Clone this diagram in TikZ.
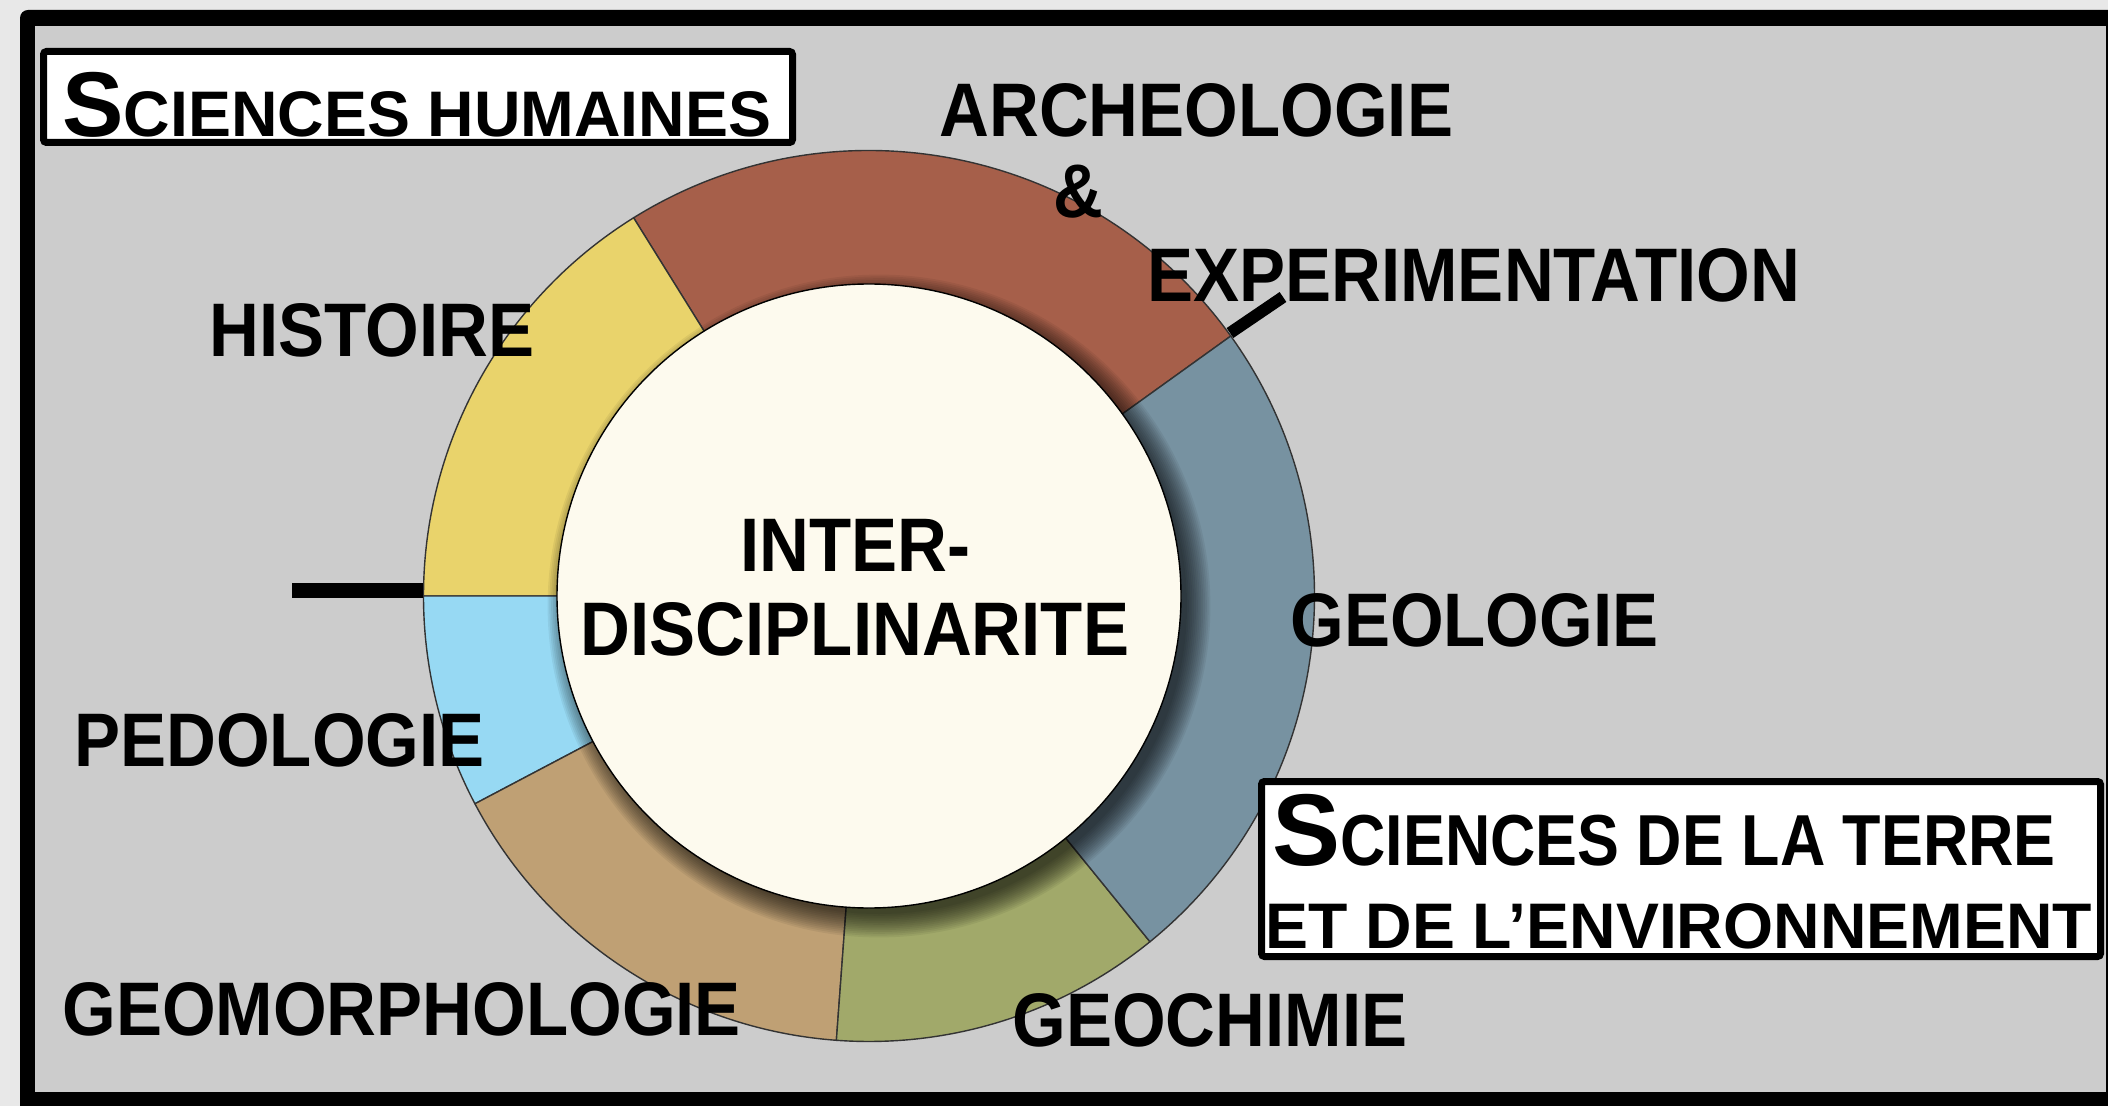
\documentclass[tikz,border=0pt]{standalone}
\usepackage{fontspec}
\setmainfont{Liberation Sans}
\usepackage{graphicx}
\usetikzlibrary{calc}
\definecolor{outerbg}{HTML}{E8E8E8}
\definecolor{panel}{HTML}{CCCCCC}
\definecolor{segred}{HTML}{A65F4A}
\definecolor{segyellow}{HTML}{E9D36B}
\definecolor{segblue}{HTML}{97D9F3}
\definecolor{segtan}{HTML}{BFA074}
\definecolor{segolive}{HTML}{A1A96A}
\definecolor{segsteel}{HTML}{7792A1}
\definecolor{cream}{HTML}{FDFAEE}
\definecolor{segline}{HTML}{333333}
\newcommand\Ro{222.75pt}
\newcommand\Ri{156pt}
\newcommand\lblfont{\fontsize{34.5pt}{36pt}\selectfont\bfseries}
\newcommand\lbltext[1]{\scalebox{1}[1.1]{#1}}
\newcommand\pieseg[3]{\filldraw[fill=#3, draw=segline, line width=0.7pt] (C) -- ++(#1:\Ro) arc[start angle=#1, end angle=#2, radius=\Ro] -- cycle;}
\tikzset{
  lbl/.style={anchor=base west, inner sep=0pt, font=\lblfont},
  lblc/.style={anchor=base, inner sep=0pt, font=\lblfont},
  titlebox/.style={draw=black, fill=white, line width=3.5pt, rounded corners=1.5pt},
  tick/.style={draw=black, line cap=butt}
}
\begin{document}
\begin{tikzpicture}[x=0.5pt,y=-0.5pt]
\useasboundingbox (0,0) rectangle (2108,1106);
% background and frame
\fill[outerbg] (0,0) rectangle (2108,1106);
\fill[black, rounded corners=4pt] (20,10) rectangle (2116,1120);
\fill[panel] (35,26) rectangle (2106,1092);
% ring
\coordinate (C) at (869,596);
\pieseg{35.7}{121.9}{segred}
\pieseg{121.9}{180}{segyellow}
\pieseg{180}{207.8}{segblue}
\pieseg{207.8}{265.8}{segtan}
\pieseg{265.8}{309.1}{segolive}
\pieseg{-50.9}{35.7}{segsteel}
% shadow of the inner disc
\foreach \k in {0,...,13}
  \fill[black, opacity=0.06] ($(C)+(5pt,-5pt)$) circle[radius={154pt+\k*0.9pt}];
\filldraw[fill=cream, draw=black, line width=0.7pt] (C) circle[radius=\Ri];
\node[inner sep=0pt, minimum size=312pt, circle] (core) at (C) {};
% ticks
\coordinate (t1a) at (292,590);
\coordinate (t1b) at (423,590);
\draw[tick, line width=7.5pt] (t1a) -- (t1b);
\coordinate (t2a) at (1230,333);
\coordinate (t2b) at (1283,297);
\draw[tick, line width=6pt] (t2a) -- (t2b);
% title boxes
\draw[titlebox] (43.5,51.5) rectangle (792.5,142.5);
\node[anchor=base west, inner sep=0pt] (sh) at (62,137)
  {\bfseries\fontsize{46pt}{46pt}\selectfont S\fontsize{32.2pt}{33pt}\selectfont CIENCES HUMAINES};
\draw[titlebox] (1261.5,781.5) rectangle (2100.5,956.5);
\node[anchor=base west, inner sep=0pt] (st1) at (1272,865)
  {\bfseries\fontsize{51pt}{51pt}\selectfont S\fontsize{31.4pt}{32pt}\selectfont\scalebox{1}[1.15]{CIENCES DE LA TERRE}};
\node[anchor=base west, inner sep=0pt] (st2) at (1265,948)
  {\bfseries\fontsize{32.2pt}{33pt}\selectfont ET DE L’ENVIRONNEMENT};
% labels
\node[lbl] (arch) at (939,137) {\lbltext{ARCHEOLOGIE}};
\node[lblc] (amp) at (1078,218) {\lbltext{\&}};
\node[lbl] (expe) at (1147,302) {\lbltext{EXPERIMENTATION}};
\node[lbl] (hist) at (209,357) {\lbltext{HISTOIRE}};
\node[lbl] (geol) at (1290,646) {\lbltext{GEOLOGIE}};
\node[lbl] (pedo) at (74,766) {\lbltext{PEDOLOGIE}};
\node[lbl] (geom) at (62,1035) {\lbltext{GEOMORPHOLOGIE}};
\node[lbl] (geoc) at (1012,1046) {\lbltext{GEOCHIMIE}};
\node[lblc] (inter) at (855,571) {\lbltext{INTER-}};
\node[lblc] (disc) at (855,655) {\lbltext{DISCIPLINARITE}};
\end{tikzpicture}
\end{document}
